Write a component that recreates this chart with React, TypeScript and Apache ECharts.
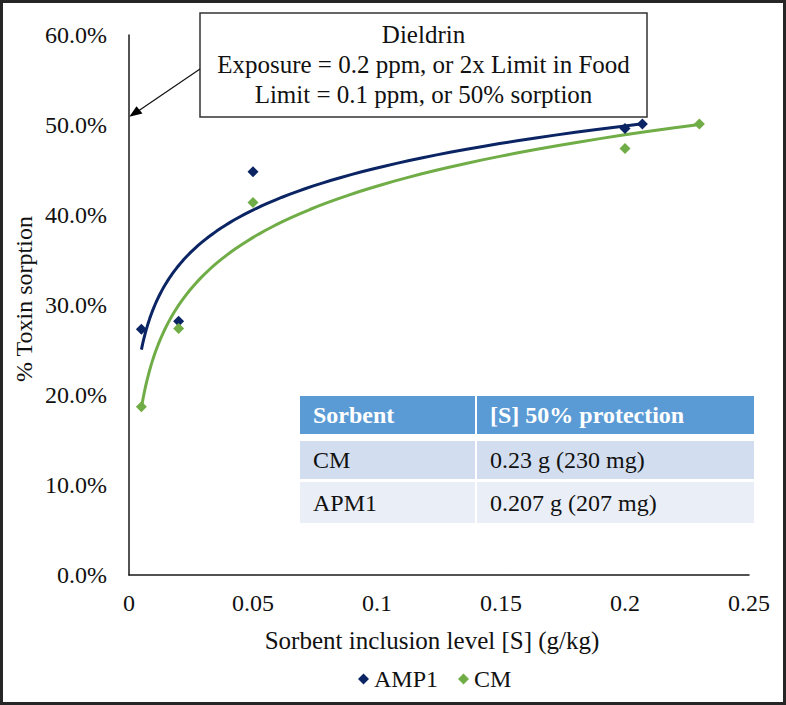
import React, { useEffect, useRef } from "react";
import * as echarts from "echarts";

// ---- data ----
const xAMP1 = [0.005, 0.02, 0.05, 0.2, 0.207];
const yAMP1 = [27.3, 28.2, 44.8, 49.6, 50.1];
const xCM = [0.005, 0.02, 0.05, 0.2, 0.23];
const yCM = [18.7, 27.4, 41.4, 47.4, 50.1];
const seriesNames = ["AMP1", "CM"];
const annotationLines = [
  "Dieldrin",
  "Exposure = 0.2 ppm, or 2x Limit in Food",
  "Limit = 0.1 ppm, or 50% sorption",
];
const tableHeader = ["Sorbent", "[S] 50% protection"];
const tableRows = [
  ["CM", "0.23 g (230 mg)"],
  ["APM1", "0.207 g (207 mg)"],
];
const xAxisTitle = "Sorbent inclusion level [S] (g/kg)";
const yAxisTitle = "% Toxin sorption";

const FONT = "'Liberation Serif', 'Times New Roman', serif";
const NAVY = "#0B2463";
const GREEN = "#70AD47";

// Excel-style logarithmic trendline (least squares on ln x)
function logTrend(xs: number[], ys: number[]) {
  const lx = xs.map((x) => Math.log(x));
  const n = xs.length;
  const mx = lx.reduce((a, b) => a + b, 0) / n;
  const my = ys.reduce((a, b) => a + b, 0) / n;
  let sxy = 0;
  let sxx = 0;
  for (let i = 0; i < n; i++) {
    sxy += (lx[i] - mx) * (ys[i] - my);
    sxx += (lx[i] - mx) * (lx[i] - mx);
  }
  const a = sxy / sxx;
  const b = my - a * mx;
  const lo = Math.min(...xs);
  const hi = Math.max(...xs);
  const pts: number[][] = [];
  const steps = 80;
  for (let i = 0; i <= steps; i++) {
    const x = Math.exp(Math.log(lo) + ((Math.log(hi) - Math.log(lo)) * i) / steps);
    pts.push([x, a * Math.log(x) + b]);
  }
  return pts;
}

export default function App() {
  const ref = useRef<HTMLDivElement>(null);
  useEffect(() => {
    if (!ref.current) return;
    const chart = echarts.init(ref.current, undefined, { renderer: "svg" });

    const tableX = [300, 477];
    const tableW = [175, 277];
    const rowY = [396, 441, 482];
    const rowH = [38, 38, 41];
    const rowFill = ["#5B9BD5", "#D2DEEF", "#EAEFF7"];
    const tableGraphics: any[] = [];
    const allRows = [tableHeader, ...tableRows];
    allRows.forEach((row, r) => {
      row.forEach((cell, c) => {
        tableGraphics.push({
          type: "rect",
          shape: { x: tableX[c], y: rowY[r], width: tableW[c], height: rowH[r] },
          style: { fill: rowFill[r] },
          z: 10,
        });
        tableGraphics.push({
          type: "text",
          x: tableX[c] + 13,
          y: rowY[r] + rowH[r] / 2,
          style: {
            text: cell,
            font: `${r === 0 ? "bold " : ""}24px ${FONT}`,
            fill: r === 0 ? "#ffffff" : "#111111",
            verticalAlign: "middle",
            align: "left",
          },
          z: 11,
        });
      });
    });

    const option: any = {
      animation: false,
      backgroundColor: "#ffffff",
      grid: { left: 129, right: 37, top: 35, bottom: 130, containLabel: false },
      xAxis: {
        type: "value",
        min: 0,
        max: 0.25,
        interval: 0.05,
        splitLine: { show: false },
        axisTick: { show: false },
        axisLine: { show: true, lineStyle: { color: "#1a1a1a", width: 1.5 } },
        axisLabel: { color: "#111", fontSize: 24, fontFamily: FONT, margin: 16 },
      },
      yAxis: {
        type: "value",
        min: 0,
        max: 60,
        interval: 10,
        splitLine: { show: false },
        axisTick: { show: false },
        axisLine: { show: true, lineStyle: { color: "#1a1a1a", width: 1.5 } },
        axisLabel: {
          color: "#111",
          fontSize: 24,
          fontFamily: FONT,
          margin: 22,
          formatter: (v: number) => v.toFixed(1) + "%",
        },
      },
      legend: {
        data: seriesNames,
        left: 353,
        top: 662,
        icon: "diamond",
        itemWidth: 11,
        itemHeight: 11,
        itemGap: 20,
        textStyle: { fontSize: 24, fontFamily: FONT, color: "#111" },
      },
      series: [
        {
          name: "AMP1 trend",
          type: "line",
          data: logTrend(xAMP1, yAMP1),
          showSymbol: false,
          lineStyle: { color: NAVY, width: 3 },
          z: 2,
        },
        {
          name: "CM trend",
          type: "line",
          data: logTrend(xCM, yCM),
          showSymbol: false,
          lineStyle: { color: GREEN, width: 3 },
          z: 2,
        },
        {
          name: seriesNames[0],
          type: "scatter",
          symbol: "diamond",
          symbolSize: 11,
          itemStyle: { color: NAVY, opacity: 1 },
          data: xAMP1.map((x, i) => [x, yAMP1[i]]),
          z: 5,
        },
        {
          name: seriesNames[1],
          type: "scatter",
          symbol: "diamond",
          symbolSize: 11,
          itemStyle: { color: GREEN, opacity: 1 },
          data: xCM.map((x, i) => [x, yCM[i]]),
          z: 5,
        },
      ],
      graphic: [
        {
          type: "rect",
          shape: { x: 1.5, y: 1.5, width: 783, height: 702 },
          style: { fill: "none", stroke: "#262626", lineWidth: 3 },
          z: 100,
          silent: true,
        },
        {
          type: "text",
          x: 24,
          y: 299,
          rotation: Math.PI / 2,
          style: {
            text: yAxisTitle,
            font: `24px ${FONT}`,
            fill: "#111",
            align: "center",
            verticalAlign: "middle",
          },
        },
        {
          type: "text",
          x: 432,
          y: 640,
          style: {
            text: xAxisTitle,
            font: `25px ${FONT}`,
            fill: "#111",
            align: "center",
            verticalAlign: "middle",
          },
        },
        {
          type: "rect",
          shape: { x: 200, y: 13, width: 447, height: 104 },
          style: { fill: "#ffffff", stroke: "#333333", lineWidth: 1.5 },
          z: 10,
        },
        ...annotationLines.map((t, i) => ({
          type: "text",
          x: 423.5,
          y: 34 + i * 30,
          style: {
            text: t,
            font: `25px ${FONT}`,
            fill: "#111",
            align: "center",
            verticalAlign: "middle",
          },
          z: 11,
        })),
        {
          type: "line",
          shape: { x1: 200, y1: 69, x2: 139, y2: 110.4 },
          style: { stroke: "#111", lineWidth: 1.2 },
          z: 10,
        },
        {
          type: "polygon",
          shape: {
            points: [
              [129.3, 116.7],
              [142.5, 113.5],
              [136.5, 106.2],
            ],
          },
          style: { fill: "#000" },
          z: 10,
        },
        ...tableGraphics,
      ],
    };
    chart.setOption(option);
    return () => chart.dispose();
  }, []);
  return (
    <div
      ref={ref}
      style={{ position: "absolute", left: 0, top: 0, width: 786, height: 705, background: "#fff" }}
    />
  );
}
